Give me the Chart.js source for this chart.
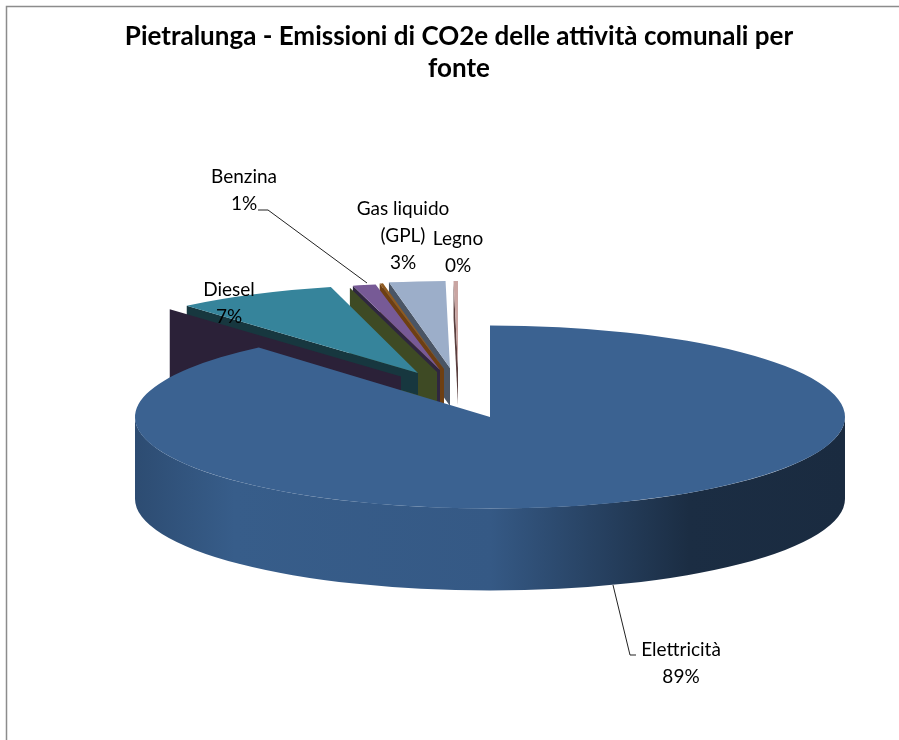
<!DOCTYPE html>
<html>
<head>
<meta charset="utf-8">
<title>Pietralunga</title>
<script src="https://cdn.jsdelivr.net/npm/chart.js@4"></script>
<style>
  html, body { margin: 0; padding: 0; background: #fff; }
  #wrap { width: 899px; height: 740px; position: relative; }
</style>
</head>
<body>
<div id="wrap"><canvas id="pieChart"></canvas></div>
<script>
// dati
const categories = ['Elettricità', 'Diesel', 'Benzina', 'Altro', 'Gas liquido (GPL)', 'Legno'];
const values = [89, 7.37, 1.05, 0.15, 2.56, 0.2];
const sliceColors = ['#3b6291', '#36849b', '#775a96', '#8f5a20', '#9caec9', '#c9a5a2'];

// etichette: [righe, x, y della prima riga]
const labelLines = [
    ['Elettricità', '89%'],
    ['Diesel', '7%'],
    ['Benzina', '1%'],
    ['Gas liquido', '(GPL)', '3%'],
    ['Legno', '0%']
];
const labelPos = [[681, 650], [229, 290], [244, 177], [403, 209], [458, 239]];
const leaders = [
    [[613, 585], [630, 655], [636, 655]],
    [[258, 210], [268, 210], [367, 283]]
];

// vista 3D
const pieX = 490, pieY = 417, squash = 0.258, pieDepth = 82;
const sliceSquash = [0.258, 0.25, 0.245, 0.245, 0.245, 0.245];
// spostamento a schermo delle fette esplose
const explodeX = [0, -72, -50, -46, -40, -32];
const explodeY = [0, -44, -47, -48, -49, -49];

function drawSlice(ctx, arc, i) {
    ctx.save();
    ctx.translate(pieX + explodeX[i], pieY + explodeY[i]);
    ctx.scale(1, sliceSquash[i]);
    ctx.translate(-arc.x, -arc.y);
    arc.draw(ctx);
    ctx.restore();
}

// faccia di taglio della fetta (lato sinistro), estrusa verso il basso
function drawFace(ctx, arc, i, dx, dy, depth, color) {
    const ax = pieX + explodeX[i] + dx;
    const ay = pieY + explodeY[i] + dy;
    const ox = ax + arc.outerRadius * Math.cos(arc.startAngle);
    const oy = ay + arc.outerRadius * Math.sin(arc.startAngle) * sliceSquash[i];
    ctx.beginPath();
    ctx.moveTo(ax, ay);
    ctx.lineTo(ox, oy);
    ctx.lineTo(ox, oy + depth);
    ctx.lineTo(ax, ay + depth);
    ctx.closePath();
    ctx.fillStyle = color;
    ctx.fill();
}

const pie3d = {
    id: 'pie3d',
    beforeDraw(chart) {
        const ctx = chart.ctx;
        ctx.save();
        ctx.strokeStyle = '#8c8c8c';
        ctx.lineWidth = 1.5;
        ctx.beginPath();
        ctx.moveTo(6.5, 740);
        ctx.lineTo(6.5, 6.5);
        ctx.lineTo(899, 6.5);
        ctx.stroke();
        ctx.restore();
    },
    beforeDatasetsDraw(chart) {
        const ctx = chart.ctx;
        const arcs = chart.getDatasetMeta(0).data;

        // GPL e legno
        drawFace(ctx, arcs[4], 4, 0, 0, 38, '#4a5565');
        drawFace(ctx, arcs[4], 4, -6, 4, 38, '#4a5565');
        drawSlice(ctx, arcs[4], 4);
        drawFace(ctx, arcs[5], 5, 0, 0, 37, '#5a3f3e');
        drawSlice(ctx, arcs[5], 5);
        // fetta sottile
        drawFace(ctx, arcs[3], 3, 0, 0, 40, '#6e3f12');
        drawSlice(ctx, arcs[3], 3);
        // benzina
        drawFace(ctx, arcs[2], 2, 0, 0, 40, '#2f2640');
        drawFace(ctx, arcs[2], 2, -3, 2, 100, '#3e4a24');
        drawSlice(ctx, arcs[2], 2);
        // diesel
        drawFace(ctx, arcs[1], 1, 0, 0, 22, '#17373f');
        drawFace(ctx, arcs[1], 1, -17, 3.5, 80, '#2b2138');
        drawSlice(ctx, arcs[1], 1);

        // parete esterna della fetta grande
        const r = arcs[0].outerRadius;
        const grad = ctx.createLinearGradient(pieX - r, 0, pieX + r, 0);
        grad.addColorStop(0, '#2d4c72');
        grad.addColorStop(0.14, '#375d8a');
        grad.addColorStop(0.5, '#355985');
        grad.addColorStop(0.78, '#1b2d43');
        grad.addColorStop(1, '#1a2b40');
        ctx.beginPath();
        ctx.ellipse(pieX, pieY, r, r * squash, 0, 0, Math.PI);
        ctx.ellipse(pieX, pieY + pieDepth, r, r * squash, 0, Math.PI, 0, true);
        ctx.closePath();
        ctx.fillStyle = grad;
        ctx.fill();
        drawSlice(ctx, arcs[0], 0);
        return false;
    },
    afterDraw(chart) {
        const ctx = chart.ctx;
        ctx.save();
        ctx.strokeStyle = '#222';
        ctx.lineWidth = 1;
        leaders.forEach(function (pts) {
            ctx.beginPath();
            pts.forEach(function (p, k) {
                if (k === 0) ctx.moveTo(p[0], p[1]); else ctx.lineTo(p[0], p[1]);
            });
            ctx.stroke();
        });
        ctx.fillStyle = '#000';
        ctx.font = '19px Lato';
        ctx.textAlign = 'center';
        ctx.textBaseline = 'middle';
        labelLines.forEach(function (lines, i) {
            lines.forEach(function (t, k) {
                ctx.fillText(t, labelPos[i][0], labelPos[i][1] + k * 27);
            });
        });
        ctx.restore();
    }
};

new Chart(document.getElementById('pieChart'), {
    type: 'pie',
    data: {
        labels: categories,
        datasets: [{
            data: values,
            backgroundColor: sliceColors,
            borderWidth: 0,
            radius: 355
        }]
    },
    options: {
        responsive: true,
        maintainAspectRatio: false,
        animation: false,
        layout: { padding: { left: 19 } },
        plugins: {
            legend: { display: false },
            tooltip: { enabled: false },
            title: {
                display: true,
                text: ['Pietralunga - Emissioni di CO2e delle attività comunali per', 'fonte'],
                color: '#000',
                font: { family: 'Lato', size: 26, weight: 'bold', lineHeight: 1.23 },
                padding: { top: 21, bottom: 10 }
            }
        }
    },
    plugins: [pie3d]
});
</script>
</body>
</html>
